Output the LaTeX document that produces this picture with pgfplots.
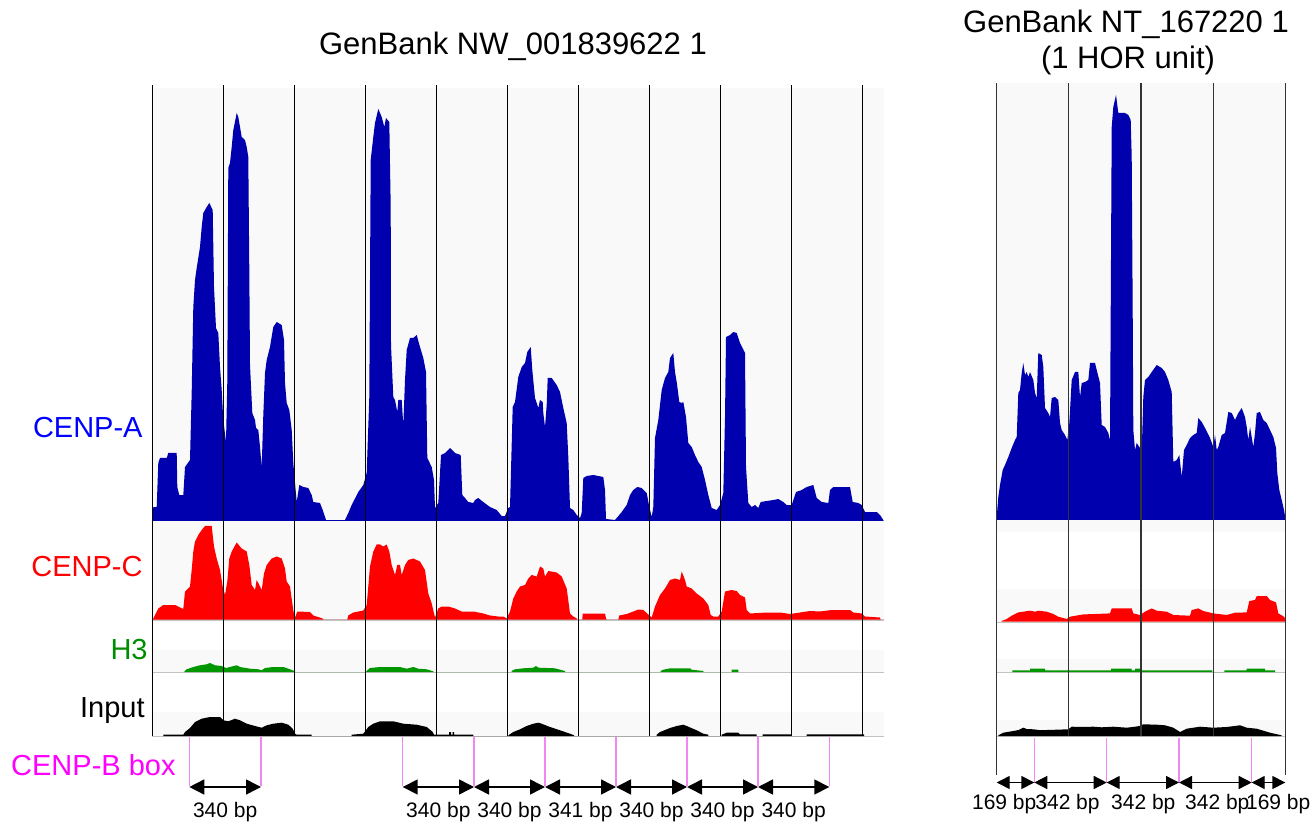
\documentclass[border=0pt]{standalone}
\usepackage{pgfplots}
\pgfplotsset{compat=1.18}
\usepackage{fontspec}
\setmainfont{Liberation Sans}
\usetikzlibrary{arrows.meta}
\definecolor{cablue}{RGB}{0,0,175}
\definecolor{ccred}{RGB}{255,0,0}
\definecolor{hgreen}{RGB}{0,150,0}
\definecolor{bgg}{RGB}{249,249,249}
\definecolor{lblblue}{RGB}{0,0,255}
\definecolor{lblgreen}{RGB}{0,140,0}
\definecolor{boxmag}{RGB}{255,0,255}
\definecolor{boxline}{RGB}{242,135,242}
\definecolor{baseln}{RGB}{195,195,195}
\newcommand{\lblfont}{\fontsize{14.5pt}{17pt}\selectfont}
\newcommand{\ttlfont}{\fontsize{15.5pt}{18pt}\selectfont}
\newcommand{\bpfont}{\fontsize{10.5pt}{12pt}\selectfont}
\pgfplotsset{
  track/.style={scale only axis, clip=false, axis on top,
    axis line style={draw=none}, ytick=\empty, xticklabels={},
    major tick length=0pt, xmajorgrids, anchor=south west, xmin=0, ymin=0},
  leftp/.style={track, width=366pt, xmax=732,
    xtick={0.3,71.3,142.4,213.4,284.5,355.5,426.5,497.6,568.6,639.7,710.7},
    grid style={black, line width=0.6pt}},
  rightp/.style={track, width=144.3pt, xmax=288.6,
    xtick={0,72,144.3,216.6,288.6},
    grid style={black!80, line width=0.6pt}},
  boxp/.style={scale only axis, clip=false, hide axis, anchor=south west, xmin=0, ymin=0, ymax=64, height=32pt},
}
\begin{document}
\begin{tikzpicture}
\useasboundingbox (0pt,0pt) rectangle (655pt,412.5pt);

% ---------------- LEFT PANEL ----------------
% CENP-A
\begin{axis}[leftp, at={(76pt,152pt)}, height=218pt, ymax=436]
\addplot[fill=bgg, draw=none] coordinates {(0,0)(732,0)(732,433)(0,433)};
\addplot[fill=cablue, draw=none] coordinates {
(0,0) (0.3,0) (1.3,14) (4.7,14) (6.3,58) (8,63) (14.7,63) (16.3,68) (24.7,68) (25.3,34) (27.3,26) (31.3,26) (33,54) (38,61) (39.7,129) (41.3,214) (43,241) (44.7,253) (48,274) (49.7,294) (51.3,308) (54.7,314) (57.3,318) (60.7,311) (62,234) (64,193) (66.3,188) (68,154) (69.7,131) (71.3,101) (74,79) (75.3,139) (76.3,353) (78,358) (79.7,374) (81.3,391) (84.7,408) (86.3,404) (89.7,384) (93,381) (94.7,374) (96.3,364) (97.3,251) (98,156) (100.3,108) (103,101) (104,93) (106.3,91) (108,74) (109.7,54) (111.3,106) (113,148) (114.7,161) (118,174) (121.3,194) (124.7,199) (129.7,196) (132,181) (133,138) (134.7,118) (137.3,111) (139.7,91) (141.3,58) (143,38) (144.7,19) (147.3,36) (151.3,34) (156.3,33) (159.7,26) (161.3,19) (168,18) (170.7,11) (174,1) (193,1) (196.3,8) (199.7,16) (206.3,29) (211.3,36) (214.7,48) (217.3,124) (218.7,361) (221.3,384) (223,398) (226.3,412) (229.7,404) (232.3,394) (234,403) (237.3,399) (238.7,314) (239,176) (241.3,124) (243,121) (245.3,109) (246.3,121) (249.7,121) (251.3,96) (253,141) (254.7,171) (258,183) (261.3,183) (264.7,186) (268,174) (271.3,163) (274,149) (275.3,63) (279.7,54) (282,41) (283,13) (286.3,18) (289,66) (293,68) (298,73) (303,68) (308.7,66) (310.3,26) (313,23) (316.3,19) (321.3,18) (323,21) (326.3,23) (331.3,19) (338,14) (344.7,11) (349.7,5) (353,5) (356.3,13) (358,14) (360.7,114) (363,119) (366.3,144) (369.7,154) (373,158) (375.3,169) (378.7,174) (380.3,151) (383,123) (384.7,118) (386.3,113) (388,121) (390.7,119) (391.3,108) (393,94) (394.7,116) (395.7,143) (399.7,143) (404.7,136) (408,129) (411.3,113) (414.7,98) (416.3,64) (418,13) (421.3,11) (424.7,6) (428,3) (429.7,8) (431.3,43) (434.7,45) (441.3,46) (451.3,44) (453,31) (454,2) (463,1) (464.7,3) (469.7,9) (474.7,16) (478,26) (481.3,31) (485.3,34) (489.7,33) (494.7,28) (497.3,14) (499.7,4) (501.3,14) (503,83) (506.3,101) (509.7,131) (513,143) (516.3,149) (518,163) (521.3,168) (523,149) (524.7,139) (527.3,119) (529.7,118) (531.3,119) (534,104) (536.3,78) (539.7,74) (543,66) (546.3,59) (549.7,54) (553,41) (556.3,26) (559.7,13) (564.7,11) (568,16) (571.3,28) (573,104) (574,184) (578,186) (581.3,189) (584.7,188) (588,178) (593,168) (594,54) (596.3,18) (599.7,14) (603,16) (606.3,13) (608.7,19) (614.7,20) (621.3,21) (626.3,22) (631.3,19) (634.7,16) (639.7,16) (644,29) (649.7,31) (654.7,34) (661.3,36) (664.7,23) (669.7,19) (676.3,18) (678,31) (681.3,34) (698,34) (700.7,19) (706.3,18) (709.7,16) (713,9) (724.7,9) (728,6) (731.3,1) (731.7,0)};
\end{axis}

% CENP-C
\begin{axis}[leftp, at={(76pt,102.75pt)}, height=49.25pt, ymax=98.5, axis background/.style={fill=bgg}]
\addplot[baseln, line width=0.8pt] coordinates {(0,-0.6)(732,-0.6)};
\addplot[fill=ccred, draw=none] coordinates {
(0,0) (1.3,1) (6.3,11) (11.3,14.5) (23,14.5) (31.3,10.5) (33,28) (38,33) (39.7,49.5) (41.3,68) (43,78) (46.3,84.5) (49.7,89.5) (53,93.5) (59.7,93.5) (62,73) (64.7,61) (68,49.5) (70.7,33) (73,24.5) (75.3,38) (77.3,61) (79.7,68) (84.7,77) (89.7,71) (94.7,68) (97.3,54.5) (99.7,34.5) (103,29.5) (104.7,39.5) (107.3,34.5) (109.7,29.5) (112,46) (114.7,54.5) (119.7,61) (124.7,63) (129.7,61) (133,51) (134.7,38) (138,33) (141.3,9) (143,2) (145.3,8) (158,7.5) (161.3,4) (170.7,1) (171,0) (195.3,0) (196.3,4) (201.3,7) (211.3,9) (214.7,14.5) (218,53) (221.3,68) (224.7,75) (228,75) (231.3,73) (234.7,75) (237.3,68) (239.7,54.5) (243,44.5) (245.3,54.5) (248,54.5) (249.7,44.5) (253,54.5) (256.3,59.5) (261.3,61) (268,58) (273,49.5) (276.3,26) (279.7,16) (282,6) (283,2) (286.3,11) (289.7,13) (296.3,13) (303,11) (309.7,8) (321.3,8) (331.3,6) (338,4) (346.3,3) (351.3,3) (354.7,1) (358,8) (361.3,21) (364.7,28) (368,33) (373,34.5) (376.3,41) (379.7,44.5) (384.7,43) (388,53) (391.3,51) (393,43) (396.3,48.5) (404.7,47) (409.7,43) (414.7,31) (416.3,19) (418,6) (421.3,3) (424.7,1) (425,0) (430.3,0) (430.7,6) (453,6) (454,1) (454.5,0) (466.3,0) (467.3,4) (474.7,5.5) (481.3,8) (486.3,10) (491.3,9.5) (496.3,5) (499.7,2) (503,13) (508,24.5) (513,31) (518,39.5) (523,41) (528,39.5) (529.7,48) (533,39.5) (534.7,33) (539.7,31) (544.7,26) (551.3,21) (556.3,14.5) (558.7,4.5) (561.3,3) (566.3,3) (569.7,8) (573,28) (579.7,29.5) (584.7,28.5) (588,24.5) (593,22) (594.7,9.5) (598,6) (614.7,7) (628,7) (638,5.5) (648,7) (658,8.5) (668,8) (679.7,9.5) (698,9.5) (701.3,7) (709.7,6) (713,3) (728,2) (728.5,0)};
\end{axis}

% H3
\begin{axis}[leftp, at={(76pt,76.5pt)}, height=26.25pt, ymax=52.5]
\addplot[fill=bgg, draw=none] coordinates {(0,0)(732,0)(732,22)(0,22)};
\addplot[baseln, line width=0.8pt] coordinates {(0,-0.6)(732,-0.6)};
\addplot[fill=hgreen, draw=none] coordinates {
(32.3,0) (32.5,0.7) (34.7,2.7) (41.3,5) (48,6.7) (54.7,7.7) (58,9) (63,6.7) (69.7,6) (74,4) (78,5) (84.7,6.7) (88,5) (98,3.3) (106.3,2.7) (109.7,1.7) (113,4) (121.3,5) (131.3,5) (138,2.7) (143,0.7) (143.2,0)
(214,0) (214.2,0.7) (218,4) (228,5) (248,5) (254.7,3.3) (261.3,5) (266.3,3.3) (274.7,2.7) (281.3,0.7) (281.5,0)
(359.5,0) (359.7,1) (363,2.7) (371.3,3.7) (381.3,4.3) (384,6) (386.3,4.3) (403,3.7) (413,1) (413.2,0)
(508.5,0) (508.7,1) (511.3,2.3) (518,3.7) (538,3.7) (539.7,2.3) (551.3,1) (551.5,0)
(579.7,0) (579.7,2.3) (586.3,2.3) (586.3,0)};
\end{axis}

% Input
\begin{axis}[leftp, at={(76pt,44.5pt)}, height=32pt, ymax=64]
\addplot[fill=bgg, draw=none] coordinates {(0,0)(732,0)(732,24)(0,24)};
\addplot[baseln, line width=0.8pt] coordinates {(0,-0.6)(732,-0.6)};
\addplot[fill=black, draw=none] coordinates {
(11.3,0) (11.3,1.3) (31.3,1.3) (33,4) (38,8) (43,14) (49.7,17.3) (58,19) (68,19) (71.3,15.7) (76.3,14.7) (83,17.3) (88,15.7) (94.7,12.3) (103,10) (109.7,8.3) (114.7,10.7) (121.3,12.3) (129.7,13.3) (136.3,11.3) (140.7,7.3) (143,2.3) (144.7,1.3) (159.7,1.3) (159.7,0)
(199.7,0) (199.7,1.3) (211.3,2.3) (216.3,9) (221.3,12.3) (228,14.7) (241.3,14.7) (251.3,12.3) (264.7,11.3) (274.7,9) (280.7,4) (282,1.3) (297,1.3) (297,4) (299,4) (299,1.3) (300.5,1.3) (300.5,4) (302,4) (302,1.3) (321.3,1.3) (321.3,0)
(356.3,0) (356.3,0.7) (361.3,4) (368,6.7) (374.7,10) (381.3,12.3) (386.3,13.3) (389.7,12.3) (398,9) (408,5.7) (418,2.3) (422,0.7) (422,0)
(504.7,0) (504.7,1.3) (508,4) (518,8) (524.7,10) (531.3,11.3) (534.7,10) (544.7,5.7) (551.3,2.3) (556.3,1.3) (556.3,0)
(569.7,0) (569.7,1.3) (574.7,3.3) (586.3,3.3) (588,1.7) (604.7,1.7) (604.7,0) (610.7,0) (610.7,1.7) (639.7,1.7) (639.7,0) (654.7,0) (654.7,1.7) (712,1.7) (712,0)};
\end{axis}

% CENP-B box (left)
\begin{axis}[boxp, at={(76pt,12.5pt)}, width=366pt, xmax=732]
\foreach \xx in {37.3,109,250.7,322,393,464,535,606,677.3}{
  \edef\temp{\noexpand\addplot[boxline, line width=0.6pt] coordinates {(\xx,63)(\xx,14)};}\temp
}
\addplot[black, line width=0.75pt, arrows={Triangle[length=7.5pt,width=7.5pt]-Triangle[length=7.5pt,width=7.5pt]}] coordinates {(37.3,13)(109,13)};
\addplot[black, line width=0.75pt, arrows={Triangle[length=7.5pt,width=7.5pt]-Triangle[length=7.5pt,width=7.5pt]}] coordinates {(250.7,13)(322,13)};
\addplot[black, line width=0.75pt, arrows={Triangle[length=7.5pt,width=7.5pt]-Triangle[length=7.5pt,width=7.5pt]}] coordinates {(322,13)(393,13)};
\addplot[black, line width=0.75pt, arrows={Triangle[length=7.5pt,width=7.5pt]-Triangle[length=7.5pt,width=7.5pt]}] coordinates {(393,13)(464,13)};
\addplot[black, line width=0.75pt, arrows={Triangle[length=7.5pt,width=7.5pt]-Triangle[length=7.5pt,width=7.5pt]}] coordinates {(464,13)(535,13)};
\addplot[black, line width=0.75pt, arrows={Triangle[length=7.5pt,width=7.5pt]-Triangle[length=7.5pt,width=7.5pt]}] coordinates {(535,13)(606,13)};
\addplot[black, line width=0.75pt, arrows={Triangle[length=7.5pt,width=7.5pt]-Triangle[length=7.5pt,width=7.5pt]}] coordinates {(606,13)(677.3,13)};
\node[anchor=base, inner sep=0pt, font=\bpfont] at (axis cs:73.15,-17) {340 bp};
\node[anchor=base, inner sep=0pt, font=\bpfont] at (axis cs:286.35,-17) {340 bp};
\node[anchor=base, inner sep=0pt, font=\bpfont] at (axis cs:357.5,-17) {340 bp};
\node[anchor=base, inner sep=0pt, font=\bpfont] at (axis cs:428.5,-17) {341 bp};
\node[anchor=base, inner sep=0pt, font=\bpfont] at (axis cs:499.5,-17) {340 bp};
\node[anchor=base, inner sep=0pt, font=\bpfont] at (axis cs:570.5,-17) {340 bp};
\node[anchor=base, inner sep=0pt, font=\bpfont] at (axis cs:641.65,-17) {340 bp};
\end{axis}

% ---------------- RIGHT PANEL ----------------
% CENP-A
\begin{axis}[rightp, at={(498.35pt,152.5pt)}, height=218.5pt, ymax=437, axis background/.style={fill=bgg}]
\addplot[fill=cablue, draw=none] coordinates {
(0,0) (0,3) (1.6,23) (3.3,35) (6,50) (8.3,55) (11.6,63) (15,72) (18.3,80) (20,83) (21.6,127) (23.3,130) (25,147) (26.6,157) (28.3,145) (30,148) (31.6,143) (33.3,148) (36.6,140) (38.3,127) (40,122) (41.6,167) (45,165) (46.6,153) (48.3,112) (51.6,107) (53.3,103) (55,122) (58.3,123) (61.6,120) (63.3,97) (65,90) (68.3,85) (70.6,80) (72.6,97) (75,140) (78.3,148) (81.6,148) (83.3,123) (85,137) (88.3,138) (91.6,140) (93.3,157) (98.3,157) (100,150) (103.3,137) (105,95) (108.3,93) (111.6,87) (113.3,80) (115,393) (116.6,413) (119.3,425) (121.6,407) (125,407) (128.3,407) (131.6,405) (134,400) (135,363) (136,207) (136.6,90) (138.3,70) (140,77) (143.3,72) (145,67) (146.6,123) (148.3,140) (151.6,143) (155,148) (160,155) (165,152) (168.3,148) (171.6,140) (175,128) (176.6,58) (180,60) (182.6,65) (185,43) (187.3,70) (190,75) (193.3,82) (196.6,85) (200,87) (201.6,102) (205,98) (208.3,92) (213.3,82) (216.6,73) (218.3,85) (220,70) (221.6,73) (225,85) (228.3,87) (231.6,108) (235,107) (238.3,100) (241.6,107) (245,112) (248.3,103) (250,93) (251.6,80) (253.3,93) (256.6,73) (258.3,87) (260,107) (263.3,108) (266.6,100) (270,97) (273.3,90) (276.6,83) (279.3,72) (280.6,47) (282.6,30) (285,20) (287.3,10) (288.6,2) (288.6,0)};
\end{axis}

% CENP-C
\begin{axis}[rightp, at={(498.35pt,101.65pt)}, height=50.85pt, ymax=101.7]
\addplot[fill=bgg, draw=none] coordinates {(0,0)(288.6,0)(288.6,32.7)(0,32.7)};
\addplot[fill=bgg, draw=none] coordinates {(0,89.7)(288.6,89.7)(288.6,101.7)(0,101.7)};
\addplot[baseln, line width=0.8pt] coordinates {(0,-0.6)(288.6,-0.6)};
\addplot[fill=ccred, draw=none] coordinates {
(5,0) (5,0.7) (10,2.7) (15,6) (21.6,9.3) (33.3,11) (38.3,10) (41.6,11) (50,10) (56.6,7.7) (61.6,5) (70,2.7) (73.3,5) (86.6,7.3) (98.3,7.7) (113.3,8.3) (115,13.3) (135,13.3) (136.6,8.3) (143.3,6.7) (148.3,10) (155,13.3) (160,11) (170,10) (176.6,6.7) (193.3,6) (195,11.7) (201.6,13.3) (206.6,10.7) (216.6,8.3) (230,6.7) (238.3,9) (250,9.3) (252.6,20.7) (258.3,21.7) (260,25.7) (270,25.7) (273.3,21.7) (279.3,19.3) (281.6,8.3) (287.3,5) (288.6,2.7) (288.6,0)};
\end{axis}

% H3
\begin{axis}[rightp, at={(498.35pt,76.5pt)}, height=25.15pt, ymax=50.3]
\addplot[fill=bgg, draw=none] coordinates {(0,0)(288.6,0)(288.6,13)(0,13)};
\addplot[baseln, line width=0.8pt] coordinates {(0,-0.6)(288.6,-0.6)};
\addplot[fill=hgreen, draw=none] coordinates {
(15.6,0) (15.6,1.7) (33.3,1.7) (33.3,3.3) (48.3,3.3) (48.3,1.7) (114.3,1.7) (114.3,3.3) (135,3.3) (135,1.7) (138.3,1.7) (138.3,3.3) (143.3,3.3) (143.3,1.7) (215.7,1.7) (215.7,0) (227.7,0) (227.7,1.7) (250,1.7) (250,3.3) (268.3,3.3) (268.3,1.7) (278.3,1.7) (278.3,0)};
\end{axis}

% Input
\begin{axis}[rightp, at={(498.35pt,44.5pt)}, height=32pt, ymax=64]
\addplot[fill=bgg, draw=none] coordinates {(0,0)(288.6,0)(288.6,16)(0,16)};
\addplot[baseln, line width=0.8pt] coordinates {(0,-0.6)(288.6,-0.6)};
\addplot[fill=black, draw=none] coordinates {
(1.6,0) (1.6,0.7) (6.6,3.3) (16.6,5) (22,6) (26.6,8.3) (30,7) (36.6,6.7) (42,6) (50,6) (60,6.3) (71.6,6.7) (75,9.3) (85,9) (96.6,9.3) (105,8.7) (116.6,9.3) (130,8.3) (136,9) (143.3,10) (146.6,11.7) (160,11.3) (168.3,10.7) (176.6,8.3) (183.3,4) (190,7.3) (203.3,9.3) (216.6,8.3) (230,9) (243.3,10.7) (250,8.3) (260,7.3) (273.3,3.3) (285,0.7) (285,0)};
\end{axis}

% CENP-B box (right)
\begin{axis}[boxp, at={(498.35pt,12.5pt)}, width=144.3pt, xmax=288.6]
\addplot[black!80, line width=0.6pt] coordinates {(0,64)(0,25)};
\addplot[black!80, line width=0.6pt] coordinates {(288.6,64)(288.6,25)};
\foreach \xx in {37.6,110,182.3,255}{
  \edef\temp{\noexpand\addplot[boxline, line width=0.6pt] coordinates {(\xx,62)(\xx,17)};}\temp
}
\addplot[black, line width=0.7pt, arrows={Triangle[length=6.5pt,width=6.5pt]-Triangle[length=6.5pt,width=6.5pt]}] coordinates {(0,17.5)(37.6,17.5)};
\addplot[black, line width=0.7pt, arrows={Triangle[length=6.5pt,width=6.5pt]-Triangle[length=6.5pt,width=6.5pt]}] coordinates {(37.6,17.5)(110,17.5)};
\addplot[black, line width=0.7pt, arrows={Triangle[length=6.5pt,width=6.5pt]-Triangle[length=6.5pt,width=6.5pt]}] coordinates {(110,17.5)(182.3,17.5)};
\addplot[black, line width=0.7pt, arrows={Triangle[length=6.5pt,width=6.5pt]-Triangle[length=6.5pt,width=6.5pt]}] coordinates {(182.3,17.5)(255,17.5)};
\addplot[black, line width=0.7pt, arrows={Triangle[length=6.5pt,width=6.5pt]-Triangle[length=6.5pt,width=6.5pt]}] coordinates {(255,17.5)(288.6,17.5)};
\node[anchor=base, inner sep=0pt, font=\bpfont] at (axis cs:7.5,-9) {169 bp};
\node[anchor=base, inner sep=0pt, font=\bpfont] at (axis cs:70.8,-9) {342 bp};
\node[anchor=base, inner sep=0pt, font=\bpfont] at (axis cs:146.6,-9) {342 bp};
\node[anchor=base, inner sep=0pt, font=\bpfont] at (axis cs:220.6,-9) {342 bp};
\node[anchor=base, inner sep=0pt, font=\bpfont] at (axis cs:281.5,-9) {169 bp};
\end{axis}

% ---------------- TEXT ----------------
\node[anchor=base east, inner sep=0pt, font=\lblfont, text=lblblue] at (71.5pt,193.5pt) {CENP-A};
\node[anchor=base east, inner sep=0pt, font=\lblfont, text=ccred] at (71.5pt,124.5pt) {CENP-C};
\node[anchor=base east, inner sep=0pt, font=\lblfont, text=lblgreen] at (74pt,83pt) {H3};
\node[anchor=base east, inner sep=0pt, font=\lblfont, text=black] at (72.5pt,54pt) {Input};
\node[anchor=base east, inner sep=0pt, font=\lblfont, text=boxmag] at (88pt,25pt) {CENP-B box};
\node[anchor=base, inner sep=0pt, font=\ttlfont] at (256.5pt,385pt) {GenBank NW\_001839622 1};
\node[anchor=base, inner sep=0pt, font=\ttlfont] at (563pt,396pt) {GenBank NT\_167220 1};
\node[anchor=base, inner sep=0pt, font=\ttlfont] at (564pt,378pt) {(1 HOR unit)};
\end{tikzpicture}
\end{document}
